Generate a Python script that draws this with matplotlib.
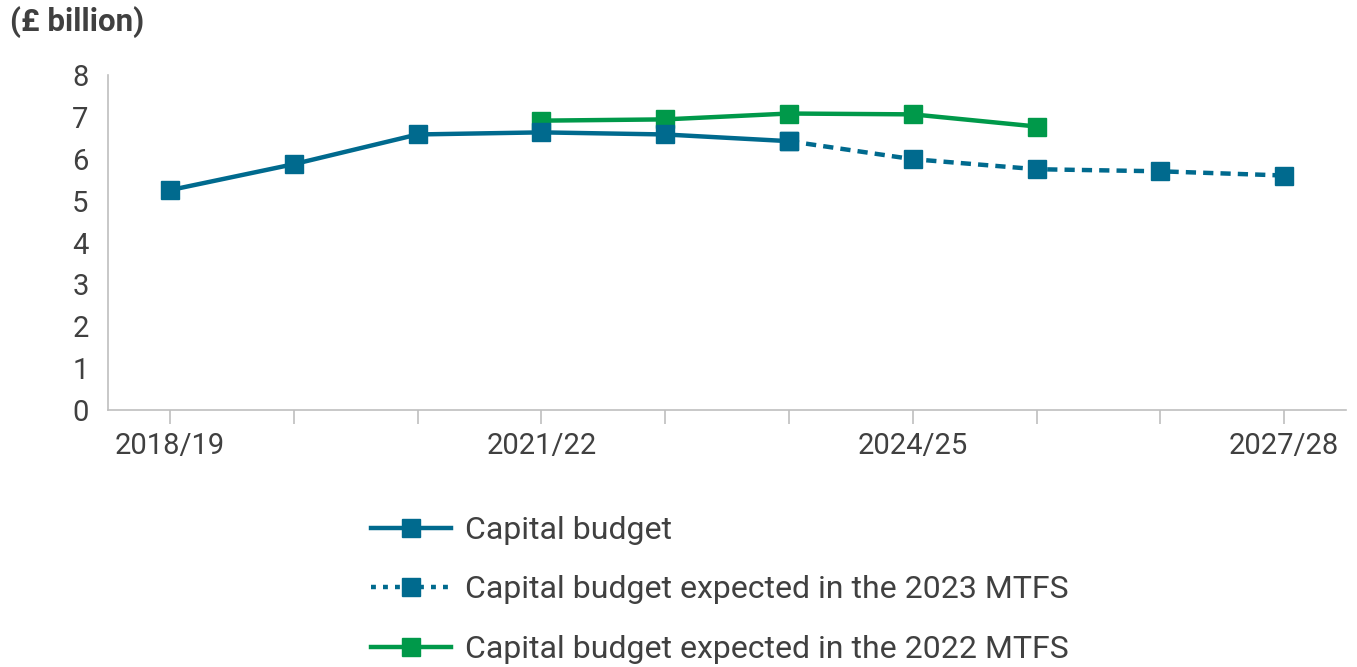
import matplotlib.pyplot as plt
from matplotlib.lines import Line2D

plt.rcParams['font.family'] = ['Roboto', 'DejaVu Sans']

years = ["2018/19", "2019/20", "2020/21", "2021/22", "2022/23",
         "2023/24", "2024/25", "2025/26", "2026/27", "2027/28"]
shown_labels = ["2018/19", "", "", "2021/22", "", "", "2024/25", "", "", "2027/28"]

# capital budget (outturn)
budget_x = [0, 1, 2, 3, 4, 5]
budget = [5.25, 5.87, 6.58, 6.63, 6.58, 6.42]

# expected in the 2023 MTFS
mtfs23_x = [5, 6, 7, 8, 9]
mtfs23 = [6.42, 5.99, 5.75, 5.70, 5.60]

# expected in the 2022 MTFS
mtfs22_x = [3, 4, 5, 6, 7]
mtfs22 = [6.91, 6.94, 7.08, 7.06, 6.77]

blue = "#006a8e"
green = "#00994a"
grey_txt = "#404040"
grey_ax = "#bfbfbf"

fig = plt.figure(figsize=(13.57, 6.67), dpi=100)
ax = fig.add_axes([108 / 1357, 1 - 410 / 667, 1238 / 1357, 335 / 667])

ms = 12.5
lw = 3.2
ax.plot(mtfs22_x, mtfs22, color=green, lw=lw, marker="s", ms=ms, zorder=2)
ax.plot(mtfs23_x, mtfs23, color=blue, lw=lw, marker="s", ms=ms,
        dashes=(2.3, 1.6), zorder=3)
ax.plot(budget_x, budget, color=blue, lw=lw, marker="s", ms=ms, zorder=4)

ax.set_xlim(-0.5, 9.5)
ax.set_ylim(0, 8)
ax.set_yticks(range(0, 9))
ax.set_xticks(range(len(years)))
ax.set_xticklabels(shown_labels)

for s in ["top", "right"]:
    ax.spines[s].set_visible(False)
for s in ["left", "bottom"]:
    ax.spines[s].set_color(grey_ax)
    ax.spines[s].set_linewidth(1.2)

ax.tick_params(axis="y", length=0, pad=14, labelsize=21, labelcolor=grey_txt)
ax.tick_params(axis="x", length=10, width=1.2, color=grey_ax, pad=6,
               labelsize=21, labelcolor=grey_txt)

fig.text(10 / 1357, 1 - 22 / 667, "(£ billion)", fontsize=22.5, fontweight="bold",
         color=grey_txt, va="center", ha="left")

handles = [
    Line2D([], [], color=blue, lw=lw, marker="s", ms=13),
    Line2D([], [], color=blue, lw=lw, marker="s", ms=13, dashes=(1.1, 1.6)),
    Line2D([], [], color=green, lw=lw, marker="s", ms=13),
]
labels = ["Capital budget",
          "Capital budget expected in the 2023 MTFS",
          "Capital budget expected in the 2022 MTFS"]
leg = fig.legend(handles, labels, loc="upper left",
                 bbox_to_anchor=(342 / 1357, 1 - 487 / 667),
                 frameon=False, fontsize=23, handlelength=2.5,
                 handletextpad=0.45, labelspacing=0.96)
for t in leg.get_texts():
    t.set_color(grey_txt)

fig.savefig("out.png", dpi=100)
